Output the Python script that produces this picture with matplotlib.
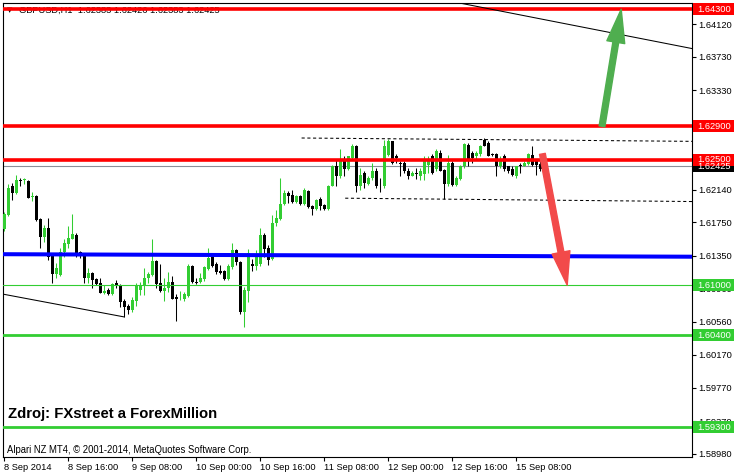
import matplotlib
matplotlib.use('Agg')
import matplotlib.pyplot as plt
import numpy as np
from matplotlib.patches import Rectangle, FancyArrowPatch

plt.rcParams['font.family'] = ['Liberation Sans', 'DejaVu Sans']

# GBPUSD H1, 8 Sep 2014 00:00 .. 15 Sep 2014 15:00
opens = [
    1.6167, 1.6184, 1.6218, 1.6210, 1.6226, 1.6226, 1.6225, 1.6206, 1.6207, 1.6179,
    1.6158, 1.6168, 1.6135, 1.6113, 1.6112, 1.6140, 1.6149, 1.6155, 1.6160, 1.6140,
    1.6135, 1.6108, 1.6114, 1.6107, 1.6102, 1.6090, 1.6094, 1.6089, 1.6102, 1.6099,
    1.6081, 1.6075, 1.6070, 1.6081, 1.6094, 1.6099, 1.6108, 1.6112, 1.6129, 1.6102,
    1.6093, 1.6096, 1.6104, 1.6086, 1.6083, 1.6083, 1.6087, 1.6123, 1.6104, 1.6104,
    1.6107, 1.6119, 1.6134, 1.6125, 1.6117, 1.6117, 1.6107, 1.6122, 1.6142, 1.6128,
    1.6068, 1.6093, 1.6125, 1.6123, 1.6125, 1.6160, 1.6144, 1.6131, 1.6174, 1.6179,
    1.6197, 1.6210, 1.6208, 1.6200, 1.6207, 1.6197, 1.6213, 1.6195, 1.6191, 1.6203,
    1.6196, 1.6191, 1.6219, 1.6242, 1.6230, 1.6248, 1.6239, 1.6252, 1.6267, 1.6218,
    1.6234, 1.6221, 1.6228, 1.6237, 1.6219, 1.6218, 1.6256, 1.6272, 1.6255, 1.6246,
    1.6246, 1.6237, 1.6231, 1.6234, 1.6231, 1.6233, 1.6244, 1.6255, 1.6239, 1.6258,
    1.6238, 1.6221, 1.6246, 1.6220, 1.6227, 1.6242, 1.6268, 1.6258, 1.6254, 1.6257,
    1.6274, 1.6270, 1.6257, 1.6257, 1.6242, 1.6255, 1.6242, 1.6239, 1.6230, 1.6244,
    1.6243, 1.6245, 1.6256, 1.6248, 1.6245, 1.6239,
]
highs = [
    1.6188, 1.6221, 1.6222, 1.6232, 1.6228, 1.6228, 1.6226, 1.6212, 1.6208, 1.6180,
    1.6172, 1.6180, 1.6136, 1.6126, 1.6144, 1.6155, 1.6171, 1.6185, 1.6162, 1.6141,
    1.6136, 1.6120, 1.6116, 1.6108, 1.6108, 1.6100, 1.6096, 1.6102, 1.6106, 1.6101,
    1.6083, 1.6077, 1.6086, 1.6102, 1.6104, 1.6120, 1.6116, 1.6155, 1.6130, 1.6125,
    1.6108, 1.6116, 1.6111, 1.6089, 1.6093, 1.6092, 1.6125, 1.6124, 1.6108, 1.6114,
    1.6123, 1.6144, 1.6135, 1.6128, 1.6124, 1.6118, 1.6125, 1.6150, 1.6143, 1.6129,
    1.6098, 1.6143, 1.6131, 1.6142, 1.6168, 1.6162, 1.6148, 1.6184, 1.6190, 1.6228,
    1.6214, 1.6213, 1.6214, 1.6208, 1.6208, 1.6216, 1.6214, 1.6196, 1.6203, 1.6206,
    1.6197, 1.6220, 1.6244, 1.6250, 1.6263, 1.6254, 1.6255, 1.6269, 1.6268, 1.6240,
    1.6236, 1.6230, 1.6246, 1.6240, 1.6228, 1.6274, 1.6275, 1.6273, 1.6257, 1.6249,
    1.6249, 1.6240, 1.6236, 1.6240, 1.6240, 1.6254, 1.6255, 1.6257, 1.6263, 1.6262,
    1.6239, 1.6256, 1.6248, 1.6230, 1.6244, 1.6270, 1.6270, 1.6260, 1.6260, 1.6268,
    1.6276, 1.6272, 1.6258, 1.6258, 1.6255, 1.6257, 1.6243, 1.6242, 1.6243, 1.6246,
    1.6248, 1.6258, 1.6267, 1.6248, 1.6248, 1.6244,
]
lows = [
    1.6165, 1.6183, 1.6202, 1.6209, 1.6218, 1.6221, 1.6204, 1.6201, 1.6177, 1.6144,
    1.6152, 1.6130, 1.6102, 1.6108, 1.6111, 1.6134, 1.6144, 1.6155, 1.6134, 1.6132,
    1.6102, 1.6102, 1.6096, 1.6100, 1.6090, 1.6089, 1.6088, 1.6088, 1.6096, 1.6074,
    1.6062, 1.6066, 1.6068, 1.6075, 1.6088, 1.6088, 1.6102, 1.6111, 1.6096, 1.6092,
    1.6081, 1.6092, 1.6084, 1.6057, 1.6082, 1.6081, 1.6086, 1.6102, 1.6101, 1.6102,
    1.6105, 1.6118, 1.6122, 1.6113, 1.6113, 1.6106, 1.6106, 1.6119, 1.6124, 1.6066,
    1.6050, 1.6080, 1.6117, 1.6118, 1.6123, 1.6134, 1.6124, 1.6130, 1.6171, 1.6178,
    1.6196, 1.6198, 1.6198, 1.6198, 1.6196, 1.6196, 1.6192, 1.6184, 1.6190, 1.6190,
    1.6190, 1.6190, 1.6218, 1.6219, 1.6228, 1.6230, 1.6238, 1.6251, 1.6212, 1.6214,
    1.6216, 1.6220, 1.6226, 1.6216, 1.6212, 1.6216, 1.6255, 1.6245, 1.6246, 1.6231,
    1.6234, 1.6227, 1.6230, 1.6227, 1.6226, 1.6226, 1.6234, 1.6233, 1.6236, 1.6236,
    1.6203, 1.6219, 1.6218, 1.6218, 1.6226, 1.6240, 1.6243, 1.6246, 1.6250, 1.6254,
    1.6266, 1.6254, 1.6254, 1.6231, 1.6240, 1.6236, 1.6234, 1.6230, 1.6228, 1.6234,
    1.6242, 1.6244, 1.6242, 1.6232, 1.6236, 1.6238,
]
closes = [
    1.6185, 1.6216, 1.6210, 1.6226, 1.6225, 1.6226, 1.6204, 1.6207, 1.6178, 1.6158,
    1.6168, 1.6134, 1.6113, 1.6120, 1.6140, 1.6150, 1.6156, 1.6161, 1.6137, 1.6135,
    1.6108, 1.6114, 1.6106, 1.6101, 1.6090, 1.6093, 1.6089, 1.6101, 1.6100, 1.6080,
    1.6074, 1.6070, 1.6082, 1.6100, 1.6099, 1.6108, 1.6113, 1.6129, 1.6101, 1.6093,
    1.6096, 1.6104, 1.6084, 1.6083, 1.6084, 1.6089, 1.6123, 1.6104, 1.6102, 1.6108,
    1.6122, 1.6132, 1.6123, 1.6116, 1.6114, 1.6107, 1.6123, 1.6142, 1.6128, 1.6068,
    1.6094, 1.6138, 1.6123, 1.6137, 1.6160, 1.6143, 1.6130, 1.6174, 1.6180, 1.6197,
    1.6210, 1.6207, 1.6200, 1.6207, 1.6197, 1.6214, 1.6194, 1.6191, 1.6202, 1.6195,
    1.6191, 1.6219, 1.6242, 1.6230, 1.6248, 1.6239, 1.6254, 1.6267, 1.6218, 1.6232,
    1.6222, 1.6228, 1.6237, 1.6218, 1.6218, 1.6266, 1.6272, 1.6246, 1.6252, 1.6245,
    1.6236, 1.6231, 1.6234, 1.6233, 1.6236, 1.6248, 1.6251, 1.6234, 1.6260, 1.6237,
    1.6221, 1.6246, 1.6220, 1.6228, 1.6242, 1.6269, 1.6251, 1.6252, 1.6258, 1.6267,
    1.6267, 1.6255, 1.6256, 1.6242, 1.6251, 1.6239, 1.6237, 1.6232, 1.6242, 1.6242,
    1.6246, 1.6257, 1.6244, 1.6244, 1.6239, 1.62425,
]

date_ticks = [0, 16, 32, 48, 64, 80, 96, 112, 128]
date_labels = ['8 Sep 2014', '8 Sep 16:00', '9 Sep 08:00', '10 Sep 00:00', '10 Sep 16:00',
               '11 Sep 08:00', '12 Sep 00:00', '12 Sep 16:00', '15 Sep 08:00']
price_ticks = [1.64120, 1.63730, 1.63330, 1.62930, 1.62540, 1.62140, 1.61750,
               1.61350, 1.60960, 1.60560, 1.60170, 1.59770, 1.59370, 1.58980]

red_levels = [1.6430, 1.6290, 1.6250]
green_levels = [1.6100, 1.6040, 1.5930]
green_widths = [0.8, 2.0, 2.0]
last_price = 1.62425

# trendlines: (bar, price) endpoints
blue_trend = ([-0.25, 172.0], [1.6137, 1.6134])
upper_channel = ([74.4, 172.0], [1.6276, 1.6272])
lower_channel = ([85.3, 172.0], [1.6204, 1.6200])
top_line = ([108.0, 172.0], [1.6443, 1.6383])
low_line = ([0.0, 30.0], [1.6089, 1.6062])

# forecast arrows: (start, end)
up_arrow = ((149.5, 1.6290), (154.3, 1.6430))
down_arrow = ((134.6, 1.6257), (140.8, 1.6100))

GREEN = '#32cd32'

o, h, l, c = (np.array(v) for v in (opens, highs, lows, closes))
bars = np.arange(len(o))
cols = np.where(c >= o, GREEN, 'black')

fig = plt.figure(figsize=(7.34, 4.75), dpi=100)
ax = fig.add_axes([3 / 734, 18 / 475, 689 / 734, 454 / 475])
ax.set_xlim(-0.25, 172.0)
ax.set_ylim(1.58944, 1.64375)

# candles
ax.vlines(bars, l, h, colors=cols, lw=0.75, zorder=3)
ax.bar(bars, np.maximum(np.abs(c - o), 0.00008), bottom=np.minimum(o, c),
       width=0.75, color=cols, linewidth=0, zorder=4)

# levels
for lv in red_levels:
    ax.axhline(lv, color='#ff0000', lw=2.6, zorder=5)
for lv, w in zip(green_levels, green_widths):
    ax.axhline(lv, color=GREEN, lw=w, zorder=5)
ax.axhline(last_price, color='#8a9099', lw=0.8, zorder=2)
ax.plot(*blue_trend, color='#0000ff', lw=2.9, zorder=5)
ax.plot(*upper_channel, color='black', lw=0.75, ls=(0, (3, 2.5)), zorder=5)
ax.plot(*lower_channel, color='black', lw=0.75, ls=(0, (3, 2.5)), zorder=5)
ax.plot(*top_line, color='black', lw=0.75, zorder=5)
ax.plot(*low_line, color='black', lw=0.75, zorder=5)

# arrows
for (p0, p1), col in [(up_arrow, '#4fae4f'), (down_arrow, '#f24a4a')]:
    ax.add_patch(FancyArrowPatch(p0, p1, arrowstyle='simple,head_length=2.4,head_width=1.3,tail_width=0.42',
                                 mutation_scale=10, color=col, shrinkA=0, shrinkB=0, zorder=7))

# axes styling
for s in ax.spines.values():
    s.set_linewidth(0.8)
    s.set_color('black')
ax.yaxis.tick_right()
ax.set_yticks(price_ticks)
ax.set_yticklabels([f'{t:.5f}' for t in price_ticks])
ax.set_xticks(date_ticks)
ax.set_xticklabels(date_labels)
for t in ax.get_xticklabels():
    t.set_ha('left')
ax.tick_params(axis='y', direction='out', length=3, width=0.8, pad=1.5, labelsize=6.7)
ax.tick_params(axis='x', direction='out', length=3, width=0.8, pad=1.5, labelsize=6.7)

# price tags on the right
yt = ax.get_yaxis_transform()
half = (1.64375 - 1.58944) / 454 * 6


def tag(level, face):
    ax.add_patch(Rectangle((1.0015, level - half), 42 / 689, 2 * half, transform=yt,
                           facecolor=face, edgecolor='none', clip_on=False, zorder=10))
    ax.text(1.0 + 5 / 689, level, f'{level:.5f}', transform=yt, color='white', fontsize=6.7,
            va='center', ha='left', zorder=11, clip_on=False)


tag(last_price, 'black')
for lv in red_levels:
    tag(lv, '#ff0000')
for lv in green_levels:
    tag(lv, GREEN)

# texts
ax.text(0.0073, 0.0947, 'Zdroj: FXstreet a ForexMillion', transform=ax.transAxes,
        fontsize=10.7, fontweight='bold', va='center', ha='left', zorder=8)
ax.text(0.006, 0.0154, 'Alpari NZ MT4, \u00a9 2001-2014, MetaQuotes Software Corp.',
        transform=ax.transAxes, fontsize=6.85, va='center', ha='left', zorder=8)
ax.text(0.0065, 0.9840, '\u25bc', transform=ax.transAxes, fontsize=5, va='center', ha='left',
        family='DejaVu Sans', zorder=4)
ax.text(0.0232, 0.9840, 'GBPUSD,H1  1.62383 1.62426 1.62383 1.62425', transform=ax.transAxes,
        fontsize=6.7, va='center', ha='left', zorder=4)

fig.savefig('out.png', dpi=100, facecolor='white')
